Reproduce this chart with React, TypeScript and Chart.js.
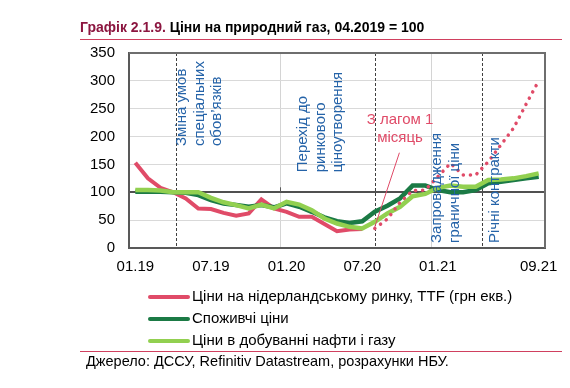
import React, { useEffect, useRef } from 'react';
import { Chart, registerables } from 'chart.js';

Chart.register(...registerables);

const months = [
  '01.19', '02.19', '03.19', '04.19', '05.19', '06.19', '07.19', '08.19', '09.19', '10.19', '11.19', '12.19',
  '01.20', '02.20', '03.20', '04.20', '05.20', '06.20', '07.20', '08.20', '09.20', '10.20', '11.20', '12.20',
  '01.21', '02.21', '03.21', '04.21', '05.21', '06.21', '07.21', '08.21', '09.21',
];
const shownTicks = ['01.19', '07.19', '01.20', '07.20', '01.21', '09.21'];
const verticalGridAt = ['01.20', '01.21'];

const ttf = [153, 125, 108, 100, 89, 71, 70, 63, 58, 62, 87, 71, 65, 56, 56, 43, 30, 33, 34,
  null, null, null, null, null, null, null, null, null, null, null, null, null, null];
const ttfLag = [null, null, null, null, null, null, null, null, null, null, null, null, null, null, null, null, null, null, null,
  35, 52, 82, 103, 104, 128, 152, 131, 131, 155, 185, 215, 258, 300];
const consumer = [101, 101, 101, 100, 99, 95, 86, 80, 77, 74, 77, 73, 80, 74, 65, 55, 48, 45, 48,
  65, 76, 89, 112, 112, 104, 100, 100, 104, 116, 119, 122, 125, 128];
const production = [104, 104, 103, 100, 100, 100, 90, 82, 77, 71, 78, 71, 83, 78, 68, 53, 44, 38, 35,
  47, 62, 74, 93, 97, 108, 112, 110, 110, 122, 123, 125, 129, 134];

const seriesNames = [
  'Ціни на нідерландському ринку, TTF (грн екв.)',
  'Споживчі ціни',
  'Ціни в добуванні нафти і газу',
];
const lagNote = ['З лагом 1', 'місяць'];
const eventLines = [3.2, 19, 27.5];
const eventNotes = [
  { lines: ['Зміна умов', 'спеціальних', 'обов\u2019язків'], idx: 3.7, val: 183 },
  { lines: ['Перехід до', 'ринкового', 'ціноутворення'], idx: 13.3, val: 136 },
  { lines: ['Запровадження', 'граничної ціни'], idx: 23.95, val: 9 },
  { lines: ['Річні контракти'], idx: 28.55, val: 9 },
];

const RED = '#e04b68';
const DGREEN = '#1b7a45';
const LGREEN = '#92d050';
const BLUE = '#2563a8';
const TITLE_RED = '#8c1640';
const F = '"Liberation Sans", Arial, sans-serif';

const overlay = {
  id: 'overlay',
  beforeDraw(chart: any) {
    const ctx = chart.ctx;
    ctx.save();
    ctx.fillStyle = '#ffffff';
    ctx.fillRect(0, 0, chart.width, chart.height);
    ctx.restore();
  },
  beforeDatasetsDraw(chart: any) {
    const ctx = chart.ctx;
    const a = chart.chartArea;
    const x = chart.scales.x;
    const y = chart.scales.y;
    ctx.save();
    ctx.strokeStyle = '#404040';
    ctx.lineWidth = 1;
    ctx.setLineDash([3, 2]);
    eventLines.forEach((i) => {
      const px = Math.round(x.getPixelForValue(i)) + 0.5;
      ctx.beginPath();
      ctx.moveTo(px, a.top);
      ctx.lineTo(px, a.bottom);
      ctx.stroke();
    });
    ctx.setLineDash([]);
    ctx.strokeStyle = '#595959';
    const y100 = y.getPixelForValue(100);
    verticalGridAt.forEach((lab) => {
      const i = months.indexOf(lab);
      const px = Math.round(x.getPixelForValue(i - 0.5)) + 0.5;
      ctx.beginPath();
      ctx.moveTo(px, y100 - 5);
      ctx.lineTo(px, y100);
      ctx.stroke();
    });
    ctx.restore();
  },
  afterDatasetsDraw(chart: any) {
    const ctx = chart.ctx;
    const a = chart.chartArea;
    const x = chart.scales.x;
    const y = chart.scales.y;
    ctx.save();
    ctx.fillStyle = BLUE;
    ctx.font = `15px ${F}`;
    ctx.textAlign = 'left';
    ctx.textBaseline = 'middle';
    eventNotes.forEach((n) => {
      const px = x.getPixelForValue(n.idx);
      const py = y.getPixelForValue(n.val);
      ctx.save();
      ctx.translate(px, py);
      ctx.rotate(-Math.PI / 2);
      n.lines.forEach((t, k) => ctx.fillText(t, 0, k * 17.5));
      ctx.restore();
    });
    ctx.fillStyle = RED;
    ctx.textAlign = 'center';
    const nx = x.getPixelForValue(21);
    ctx.fillText(lagNote[0], nx, y.getPixelForValue(230));
    ctx.fillText(lagNote[1], nx, y.getPixelForValue(197));
    ctx.strokeStyle = RED;
    ctx.lineWidth = 1;
    ctx.beginPath();
    ctx.moveTo(x.getPixelForValue(20.95), y.getPixelForValue(171));
    ctx.lineTo(x.getPixelForValue(19), y.getPixelForValue(38));
    ctx.stroke();
    ctx.strokeStyle = '#6e6e6e';
    ctx.lineWidth = 2;
    ctx.beginPath();
    ctx.moveTo(a.left, a.top);
    ctx.lineTo(a.right, a.top);
    ctx.lineTo(a.right, a.bottom);
    ctx.stroke();
    ctx.restore();
  },
  afterDraw(chart: any) {
    const ctx = chart.ctx;
    ctx.save();
    ctx.textBaseline = 'middle';
    ctx.textAlign = 'left';
    ctx.font = `bold 14px ${F}`;
    const t1 = 'Графік 2.1.9.';
    ctx.fillStyle = TITLE_RED;
    ctx.fillText(t1, 80, 28);
    const w1 = ctx.measureText(t1 + ' ').width;
    ctx.fillStyle = '#000000';
    ctx.fillText('Ціни на природний газ, 04.2019 = 100', 80 + w1, 28);
    ctx.strokeStyle = '#d0405f';
    ctx.lineWidth = 1;
    ctx.beginPath();
    ctx.moveTo(80, 39.5);
    ctx.lineTo(562, 39.5);
    ctx.stroke();
    const colors = [RED, DGREEN, LGREEN];
    const rows = [297, 319, 341];
    ctx.font = `15px ${F}`;
    ctx.lineCap = 'round';
    seriesNames.forEach((name, k) => {
      ctx.strokeStyle = colors[k];
      ctx.lineWidth = 4;
      ctx.beginPath();
      ctx.moveTo(150, rows[k]);
      ctx.lineTo(188, rows[k]);
      ctx.stroke();
      ctx.fillStyle = '#000000';
      ctx.fillText(name, 192, rows[k]);
    });
    ctx.lineCap = 'butt';
    ctx.strokeStyle = '#d0405f';
    ctx.lineWidth = 1;
    ctx.beginPath();
    ctx.moveTo(80, 351.5);
    ctx.lineTo(562, 351.5);
    ctx.stroke();
    ctx.fillStyle = '#000000';
    ctx.font = `14.5px ${F}`;
    ctx.fillText('Джерело: ДССУ, Refinitiv Datastream, розрахунки НБУ.', 86, 362);
    ctx.restore();
  },
};

export default function App() {
  const ref = useRef<HTMLCanvasElement>(null);
  useEffect(() => {
    if (!ref.current) return;
    const chart = new Chart(ref.current, {
      type: 'line',
      data: {
        labels: months,
        datasets: [
          {
            label: seriesNames[0] + ' (лаг)',
            data: ttfLag as any,
            borderColor: RED,
            borderWidth: 3.5,
            borderDash: [0.1, 7],
            borderCapStyle: 'round',
            pointRadius: 0,
            tension: 0,
            order: 0,
          },
          {
            label: seriesNames[2],
            data: production,
            borderColor: LGREEN,
            borderWidth: 4.5,
            pointRadius: 0,
            tension: 0,
            order: 1,
          },
          {
            label: seriesNames[1],
            data: consumer,
            borderColor: DGREEN,
            borderWidth: 4.5,
            pointRadius: 0,
            tension: 0,
            order: 2,
          },
          {
            label: seriesNames[0],
            data: ttf as any,
            borderColor: RED,
            borderWidth: 4,
            pointRadius: 0,
            tension: 0,
            order: 3,
          },
        ],
      },
      options: {
        responsive: false,
        animation: false,
        layout: { padding: { top: 53, right: 25, left: 0, bottom: 0 } },
        plugins: { legend: { display: false }, tooltip: { enabled: false }, title: { display: false } },
        scales: {
          x: {
            type: 'category',
            offset: true,
            afterFit: (s: any) => { s.height = 140; },
            grid: {
              offset: true,
              drawTicks: false,
              color: (c: any) => (c.tick && verticalGridAt.includes(months[c.index]) ? '#d4d4d4' : 'rgba(0,0,0,0)'),
              lineWidth: 1,
            },
            border: { display: true, color: '#595959', width: 2 },
            ticks: {
              autoSkip: false,
              maxRotation: 0,
              minRotation: 0,
              padding: 10,
              color: '#000000',
              font: { family: F, size: 15 },
              callback: (_v: any, i: number) => (shownTicks.includes(months[i]) ? months[i] : ''),
            },
          },
          y: {
            min: 0,
            max: 350,
            afterFit: (s: any) => { s.width = 129; },
            grid: {
              drawTicks: false,
              color: (c: any) => (c.tick && c.tick.value === 100 ? '#505050' : '#d9d9d9'),
              lineWidth: (c: any) => (c.tick && c.tick.value === 100 ? 2 : 1),
            },
            border: { display: true, color: '#595959', width: 2 },
            ticks: {
              stepSize: 50,
              padding: 14,
              color: '#000000',
              font: { family: F, size: 15 },
            },
          },
        },
      },
      plugins: [overlay],
    } as any);
    return () => chart.destroy();
  }, []);
  return (
    <div style={{ position: 'absolute', left: 0, top: 0, width: 570, height: 388 }}>
      <canvas ref={ref} width={570} height={388} style={{ width: 570, height: 388 }} />
    </div>
  );
}
